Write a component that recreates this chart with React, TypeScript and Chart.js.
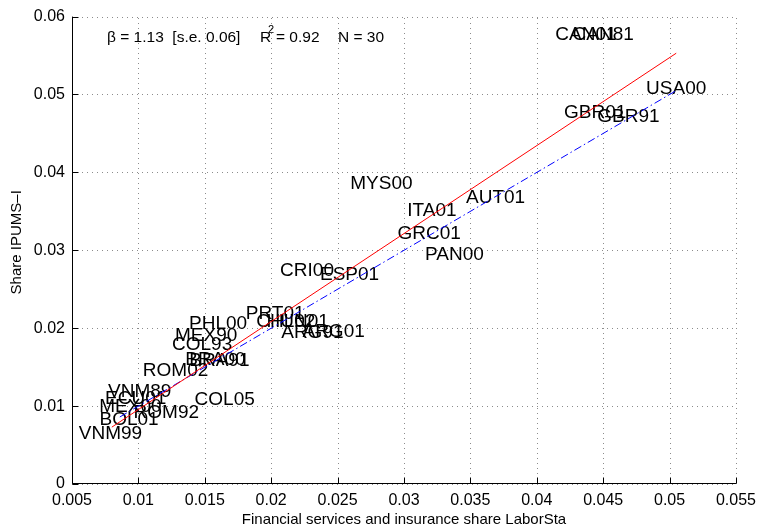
import React, { useEffect, useRef } from 'react';
import { Chart, registerables } from 'chart.js';

Chart.register(...registerables);

// Census samples (country + year) and their finance & insurance employment shares
const countries = [
  'CAN01', 'CAN81', 'USA00', 'GBR01', 'GBR91', 'MYS00', 'AUT01', 'ITA01', 'GRC01', 'PAN00',
  'CRI00', 'ESP01', 'PRT01', 'PHL00', 'CHL02', 'HUN01', 'ARG91', 'ARG01', 'MEX90', 'COL93',
  'BRA00', 'BRA91', 'ROM02', 'VNM89', 'ECU01', 'MEX00', 'ROM92', 'BOL01', 'VNM99', 'COL05',
];
const laborStaShare = [
  0.0437, 0.0450, 0.0505, 0.0444, 0.0469, 0.0283, 0.0369, 0.0321, 0.0319, 0.0338,
  0.0227, 0.0259, 0.0203, 0.0160, 0.0211, 0.0220, 0.0231, 0.0247, 0.0151, 0.0148,
  0.0158, 0.0161, 0.0128, 0.0101, 0.0098, 0.0094, 0.0121, 0.0093, 0.0079, 0.0165,
];
const ipumsShare = [
  0.0577, 0.0577, 0.0508, 0.0477, 0.0471, 0.0385, 0.0368, 0.0351, 0.0321, 0.0294,
  0.0274, 0.0269, 0.0219, 0.0206, 0.0208, 0.0208, 0.0194, 0.0196, 0.0190, 0.0179,
  0.0160, 0.0158, 0.0145, 0.0119, 0.0110, 0.0099, 0.0091, 0.0083, 0.0064, 0.0108,
];

// Fitted regression line (solid red) and 45-degree line (blue dash-dot)
const fitX = [0.0080, 0.0505];
const fitY = [0.0073, 0.0553];
const refX = [0.0086, 0.0505];
const refY = [0.0086, 0.0505];

const xTicks = [0.005, 0.01, 0.015, 0.02, 0.025, 0.03, 0.035, 0.04, 0.045, 0.05, 0.055];
const xTickLabels = ['0.005', '0.01', '0.015', '0.02', '0.025', '0.03', '0.035', '0.04', '0.045', '0.05', '0.055'];
const yTicks = [0, 0.01, 0.02, 0.03, 0.04, 0.05, 0.06];
const yTickLabels = ['0', '0.01', '0.02', '0.03', '0.04', '0.05', '0.06'];

const xTitle = 'Financial services and insurance share LaborSta';
const yTitle = 'Share IPUMS–I';

const FONT = '"Liberation Sans", Arial, Helvetica, sans-serif';

export default function App() {
  const canvasRef = useRef<HTMLCanvasElement>(null);

  useEffect(() => {
    document.body.style.margin = '0';
    const canvas = canvasRef.current;
    if (!canvas) return;

    const frame = {
      id: 'matlabFrame',
      beforeDatasetsDraw(chart: any) {
        const { ctx, chartArea: a, scales } = chart;
        const x = scales.x;
        const y = scales.y;
        // dotted grid
        ctx.save();
        ctx.strokeStyle = '#8c8c8c';
        ctx.lineWidth = 1;
        ctx.setLineDash([1, 4]);
        xTicks.forEach((v) => {
          const px = Math.round(x.getPixelForValue(v)) + 0.5;
          ctx.beginPath();
          ctx.moveTo(px, a.bottom);
          ctx.lineTo(px, a.top);
          ctx.stroke();
        });
        yTicks.forEach((v) => {
          const py = Math.round(y.getPixelForValue(v)) + 0.5;
          ctx.beginPath();
          ctx.moveTo(a.left, py);
          ctx.lineTo(a.right, py);
          ctx.stroke();
        });
        ctx.restore();

        // sample labels centred on each point
        const meta = chart.getDatasetMeta(0);
        ctx.save();
        ctx.fillStyle = '#000';
        ctx.font = `19px ${FONT}`;
        ctx.textAlign = 'center';
        ctx.textBaseline = 'middle';
        meta.data.forEach((pt: any, i: number) => {
          ctx.fillText(countries[i], pt.x, pt.y);
        });
        ctx.restore();
      },
      afterDatasetsDraw(chart: any) {
        const { ctx, chartArea: a, scales } = chart;
        const x = scales.x;
        const y = scales.y;
        ctx.save();
        ctx.strokeStyle = '#000';
        ctx.lineWidth = 1;
        ctx.setLineDash([]);
        const left = Math.round(a.left) + 0.5;
        const bottom = Math.round(a.bottom) - 0.5;
        ctx.beginPath();
        ctx.moveTo(left, a.top);
        ctx.lineTo(left, bottom);
        ctx.lineTo(a.right, bottom);
        ctx.stroke();
        // inward tick marks
        xTicks.forEach((v) => {
          const px = Math.round(x.getPixelForValue(v)) + 0.5;
          ctx.beginPath();
          ctx.moveTo(px, bottom);
          ctx.lineTo(px, bottom - 6);
          ctx.stroke();
        });
        yTicks.forEach((v) => {
          const py = Math.round(y.getPixelForValue(v)) + 0.5;
          ctx.beginPath();
          ctx.moveTo(left, py);
          ctx.lineTo(left + 6, py);
          ctx.stroke();
        });

        // regression statistics
        ctx.fillStyle = '#000';
        ctx.textBaseline = 'middle';
        ctx.textAlign = 'left';
        ctx.font = `15.5px ${FONT}`;
        const ty = a.top + 21;
        ctx.fillText('β = 1.13  [s.e. 0.06]', a.left + 35, ty);
        ctx.fillText('R', a.left + 188, ty);
        ctx.fillText('= 0.92', a.left + 204, ty);
        ctx.fillText('N = 30', a.left + 266, ty);
        ctx.font = `11px ${FONT}`;
        ctx.fillText('2', a.left + 196, ty - 8);

        // axis titles
        ctx.font = `15px ${FONT}`;
        ctx.textAlign = 'center';
        ctx.fillText(xTitle, (a.left + a.right) / 2, 520);
        ctx.save();
        ctx.translate(17, (a.top + a.bottom) / 2 - 8);
        ctx.rotate(-Math.PI / 2);
        ctx.fillText(yTitle, 0, 0);
        ctx.restore();
        ctx.restore();
      },
    };

    const chart = new Chart(canvas, {
      type: 'scatter',
      data: {
        datasets: [
          {
            data: countries.map((_, i) => ({ x: laborStaShare[i], y: ipumsShare[i] })),
            pointRadius: 0,
            showLine: false,
          },
          {
            data: fitX.map((v, i) => ({ x: v, y: fitY[i] })),
            showLine: true,
            borderColor: '#ff0000',
            borderWidth: 1,
            pointRadius: 0,
          },
          {
            data: refX.map((v, i) => ({ x: v, y: refY[i] })),
            showLine: true,
            borderColor: '#0000ff',
            borderWidth: 1,
            borderDash: [8, 3, 1.5, 3],
            pointRadius: 0,
          },
        ],
      },
      options: {
        responsive: false,
        animation: false,
        devicePixelRatio: 1,
        events: [],
        layout: { padding: { top: 16, right: 22, left: 0, bottom: 0 } },
        plugins: { legend: { display: false }, tooltip: { enabled: false } },
        scales: {
          x: {
            type: 'linear',
            min: 0.005,
            max: 0.055,
            grid: { display: false, drawTicks: false },
            border: { display: false },
            afterBuildTicks: (s: any) => {
              s.ticks = xTicks.map((v) => ({ value: v }));
            },
            afterFit: (s: any) => {
              s.height = 47;
            },
            ticks: {
              callback: (_v: any, i: number) => xTickLabels[i],
              padding: 7,
              color: '#000',
              maxRotation: 0,
              autoSkip: false,
              font: { family: FONT, size: 16 },
            },
          },
          y: {
            type: 'linear',
            min: 0,
            max: 0.06,
            grid: { display: false, drawTicks: false },
            border: { display: false },
            afterBuildTicks: (s: any) => {
              s.ticks = yTicks.map((v) => ({ value: v }));
            },
            afterFit: (s: any) => {
              s.width = 72;
            },
            ticks: {
              callback: (_v: any, i: number) => yTickLabels[i],
              padding: 7,
              color: '#000',
              autoSkip: false,
              font: { family: FONT, size: 16 },
            },
          },
        },
      },
      plugins: [frame],
    });

    return () => chart.destroy();
  }, []);

  return (
    <div style={{ position: 'absolute', left: 0, top: 0, width: 763, height: 531, background: '#fff' }}>
      <canvas ref={canvasRef} width={763} height={531} style={{ display: 'block' }} />
    </div>
  );
}
